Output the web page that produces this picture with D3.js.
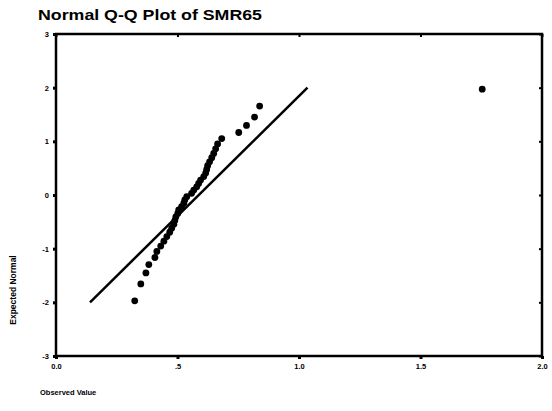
<!DOCTYPE html>
<html><head><meta charset="utf-8">
<script src="https://cdn.jsdelivr.net/npm/d3@7"></script>
<style>body{margin:0;background:#fff}svg{display:block}text{font-family:"Liberation Sans",Arial,sans-serif;font-weight:bold;fill:#000}</style>
</head><body><svg id="c" width="552" height="411"></svg>
<script>
const observed = [0.324,0.349,0.370,0.382,0.407,0.415,0.431,0.444,0.456,0.468,
  0.476,0.485,0.489,0.493,0.501,0.505,0.517,0.526,0.530,0.538,
  0.558,0.567,0.579,0.587,0.595,0.608,0.616,0.620,0.624,0.632,
  0.641,0.649,0.657,0.665,0.682,0.752,0.784,0.817,0.838,1.754];
const expected = [-1.971,-1.657,-1.452,-1.296,-1.165,-1.052,-0.952,-0.860,-0.774,-0.694,
  -0.618,-0.546,-0.476,-0.409,-0.343,-0.279,-0.216,-0.153,-0.092,-0.031,
  0.031,0.092,0.153,0.216,0.279,0.343,0.409,0.476,0.546,0.618,
  0.694,0.774,0.860,0.952,1.052,1.165,1.296,1.452,1.657,1.971];
const lineX = [0.14, 1.035];
const lineY = [-2.0, 2.0];
const xTicks = [0, 0.5, 1.0, 1.5, 2.0];
const xTickLabels = ["0.0", ".5", "1.0", "1.5", "2.0"];
const yTicks = [3, 2, 1, 0, -1, -2, -3];
const yTickLabels = ["3", "2", "1", "0", "-1", "-2", "-3"];
const title = "Normal Q-Q Plot of SMR65";
const xTitle = "Observed Value";
const yTitle = "Expected Normal";

const svg = d3.select("#c");
const L = 56, R = 542, T = 34, B = 356;
const x = d3.scaleLinear().domain([0, 2]).range([L, R]);
const y = d3.scaleLinear().domain([-3, 3]).range([B, T]);

svg.append("text").attr("x", 38).attr("y", 20).attr("font-size", 15.5).attr("textLength", 224)
  .attr("lengthAdjust", "spacingAndGlyphs").text(title);

// frame
svg.append("rect").attr("x", L).attr("y", T).attr("width", R - L).attr("height", B - T)
  .attr("fill", "none").attr("stroke", "#000").attr("stroke-width", 2.5);

const xAxis = d3.axisBottom(x).tickValues(xTicks).tickFormat((d, i) => xTickLabels[i]).tickSize(3).tickPadding(5);
const gx = svg.append("g").attr("transform", `translate(0,${B})`).call(xAxis);
const yAxis = d3.axisLeft(y).tickValues(yTicks).tickFormat((d, i) => yTickLabels[i]).tickSize(3).tickPadding(4);
const gy = svg.append("g").attr("transform", `translate(${L},0)`).call(yAxis);
[gx, gy].forEach(g => {
  g.select(".domain").remove();
  g.selectAll(".tick line").attr("stroke", "#000").attr("stroke-width", 3);
  g.selectAll(".tick text").attr("font-size", 7.5).attr("font-family", "Liberation Sans, Arial, sans-serif").attr("font-weight", "bold");
});
// mirrored inner ticks on top and right
svg.append("g").attr("transform", `translate(0,${T})`).call(d3.axisTop(x).tickValues(xTicks).tickFormat("").tickSize(-3))
  .call(g => { g.select(".domain").remove(); g.selectAll("line").attr("stroke-width", 2); });
svg.append("g").attr("transform", `translate(${R},0)`).call(d3.axisRight(y).tickValues(yTicks).tickFormat("").tickSize(-3))
  .call(g => { g.select(".domain").remove(); g.selectAll("line").attr("stroke-width", 2); });

// reference line
svg.append("line").attr("x1", x(lineX[0])).attr("y1", y(lineY[0]))
  .attr("x2", x(lineX[1])).attr("y2", y(lineY[1]))
  .attr("stroke", "#000").attr("stroke-width", 2.5);

// points
svg.append("g").selectAll("circle").data(observed).join("circle")
  .attr("cx", d => x(d)).attr("cy", (d, i) => y(expected[i])).attr("r", 3.4).attr("fill", "#000");

svg.append("text").attr("x", 40).attr("y", 395).attr("font-size", 7.5).text(xTitle);
svg.append("text").attr("transform", "translate(16,290) rotate(-90)").attr("text-anchor", "middle")
  .attr("font-size", 8.5).text(yTitle);
</script></body></html>
